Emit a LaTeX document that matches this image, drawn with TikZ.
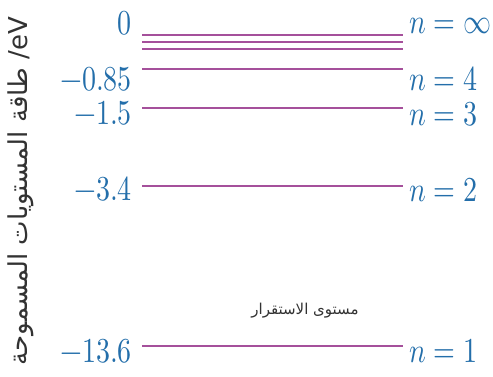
\documentclass[tikz,border=0pt]{standalone}
\usepackage{fontspec}
\usepackage{unicode-math}
\setmathfont{Latin Modern Math}
\usepackage{tikz}
\TeXXeTstate=1
\newfontfamily\arabicfont[Script=Arabic]{DejaVu Sans}
\definecolor{levelblue}{RGB}{35,110,170}
\definecolor{levelpurple}{RGB}{165,80,155}
\definecolor{captiongray}{RGB}{50,50,50}

\begin{document}
\begin{tikzpicture}[x=1pt, y=-1pt, font=\fontsize{35}{40}\selectfont,
  energy/.style={text=levelblue, anchor=base east, xscale=0.8, inner sep=0pt},
  quantum/.style={text=levelblue, anchor=base west, xscale=0.8, inner sep=0pt},
  level/.style={levelpurple, line width=1.8pt}]
  \useasboundingbox (0,0) rectangle (493,376);
  % levels
  \draw[level] (142, 35) -- (403, 35);
  \draw[level] (142, 42) -- (403, 42);
  \draw[level] (142, 49) -- (403, 49);
  \draw[level] (142, 69) -- (403, 69);
  \draw[level] (142,108) -- (403,108);
  \draw[level] (142,186) -- (403,186);
  \draw[level] (142,346) -- (403,346);
  % energies
  \node[energy] (e0) at (132, 34) {$0$};
  \node[energy] (e4) at (132, 90) {$-0.85$};
  \node[energy] (e3) at (132,124) {$-1.5$};
  \node[energy] (e2) at (132,200) {$-3.4$};
  \node[energy] (e1) at (132,362) {$-13.6$};
  % quantum numbers
  \node[quantum] (ninf) at (409, 33) {$n=\infty$};
  \node[quantum] (n4)   at (409, 90) {$n=4$};
  \node[quantum] (n3)   at (409,125) {$n=3$};
  \node[quantum] (n2)   at (409,201) {$n=2$};
  \node[quantum] (n1)   at (409,362) {$n=1$};
  % captions
  \node[text=captiongray, font=\fontsize{15}{17}\arabicfont] (ground) at (305,311)
    {\beginR مستوى الاستقرار\endR};
  \node[text=captiongray, rotate=90, font=\fontsize{26}{30}\arabicfont] (axis) at (21,191)
    {\beginR طاقة المستويات المسموحة\endR\ \beginL/eV\endL};
\end{tikzpicture}
\end{document}
